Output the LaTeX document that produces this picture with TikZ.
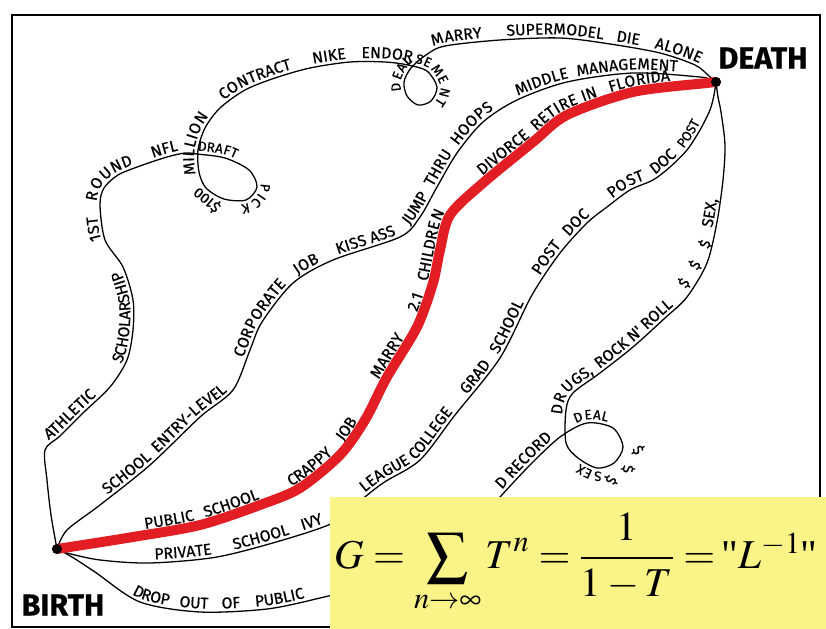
\documentclass[tikz,border=0pt]{standalone}
\usepackage{mathptmx}
\usepackage{fontspec}
\usetikzlibrary{decorations.text}
\newfontfamily\handfont{Fira Sans}[FakeBold=0.6]
\newfontfamily\formulafont{Liberation Serif}
\definecolor{stickyyellow}{RGB}{250,243,135}
\definecolor{lifered}{RGB}{226,30,36}

\begin{document}
\begin{tikzpicture}[x=0.03cm, y=-0.03cm,
    route/.style={line width=1.1pt, line cap=round, line join=round},
    lifeline/.style={draw=lifered, line width=8.5pt, line cap=round},
    dot/.style={circle, fill=black, inner sep=0pt, minimum size=8pt},
    tag/.style={inner sep=0pt, font=\handfont\bfseries\fontsize{26}{28}\selectfont},
    cash/.style={inner sep=0pt, font=\handfont\fontsize{12.5}{13}\selectfont},
    words/.style 2 args={preaction={decorate, decoration={text along path, raise=3pt,
        text align={left indent=#1}, text={|\handfont\fontsize{13.5}{14}\selectfont|#2}}}},
    loopwords/.style 2 args={preaction={decorate, decoration={text along path, raise=3pt,
        text align={left indent=#1}, text={|\handfont\fontsize{11.5}{12}\selectfont|#2}}}},
    redwords/.style 2 args={preaction={decorate, decoration={text along path, raise=5pt,
        text align={left indent=#1}, text={|\handfont\fontsize{13.5}{14}\selectfont|#2}}}}]
    \useasboundingbox (0,0) rectangle (826,629);
    \draw[line width=2.4pt] (12,15) rectangle (820,627);

    \node[dot] (birth) at (57,549) {};
    \node[dot] (death) at (716,82) {};
    \node[tag] (birthtag) at (63,605) {BIRTH};
    \node[tag] (deathtag) at (763,58) {DEATH};

    \draw[route, words={93pt}{ATHLETIC}, words={185pt}{SCHOLARSHIP}, words={300pt}{1ST}, words={332pt}{ROUND}, words={394pt}{NFL},
        loopwords={432pt}{DRAFT}, loopwords={492pt}{PICK},
        words={561pt}{MILLION}, words={629pt}{CONTRACT}, words={711pt}{NIKE}, words={752pt}{ENDOR},
        loopwords={797pt}{SEMENT}, loopwords={868pt}{DEAL},
        words={914pt}{MARRY}, words={977pt}{SUPERMODEL}, words={1070pt}{DIE}, words={1103pt}{ALONE}]
        plot[smooth] coordinates {(birth.center) (51,515) (47,480) (45,450) (60,436) (83,413) (110,387) (127,360) (133,330) (133,300) (123,267) (105,240) (100,205) (104,188) (118,175) (140,166) (167,157) (185,153) (197,154) (225,158) (249,170) (257,187) (246,200) (224,199) (206,188) (199,172) (198,150) (205,128) (220,108) (245,90) (275,78) (310,68) (350,62) (385,62) (408,65) (427,71) (437,87) (431,101) (418,105) (407,96) (404,82) (411,68) (426,55) (445,46) (500,40) (560,38) (610,44) (660,53) (695,65) (709,76) (death.center)};
    \node[cash, rotate=140] (hundred) at (207,200) {\$100};

    \draw[route, words={64pt}{SCHOOL}, words={120pt}{ENTRY-LEVEL}, words={233pt}{CORPORATE}, words={317pt}{JOB}, words={355pt}{KISS ASS}, words={423pt}{JUMP}, words={462pt}{THRU}, words={503pt}{HOOPS}, words={569pt}{MIDDLE}, words={622pt}{MANAGEMENT}]
        plot[smooth] coordinates {(birth.center) (67,530) (100,505) (150,465) (200,417) (233,390) (250,350) (262,322) (293,283) (333,260) (400,237) (420,217) (437,187) (457,153) (483,122) (517,100) (567,82) (633,73) (700,77) (710,80) (death.center)};

    \draw[route, words={85pt}{PRIVATE}, words={154pt}{SCHOOL}, words={215pt}{IVY}, words={279pt}{LEAGUE}, words={330pt}{COLLEGE}, words={402pt}{GRAD}, words={446pt}{SCHOOL}, words={522pt}{POST}, words={563pt}{DOC}, words={612pt}{POST}, words={654pt}{DOC}, loopwords={688pt}{POST}]
        plot[smooth] coordinates {(birth.center) (67,553) (100,560) (150,563) (217,557) (283,540) (333,523) (355,505) (383,483) (420,460) (455,415) (500,358) (532,295) (560,253) (587,223) (607,207) (630,190) (653,180) (670,167) (687,150) (700,130) (710,110) (714,95) (death.center)};

    \draw[route, words={75pt}{DROP}, words={118pt}{OUT}, words={155pt}{OF}, words={184pt}{PUBLIC}, words={425pt}{D RECORD},
        loopwords={509pt}{DEAL}, loopwords={587pt}{SEX},
        words={650pt}{DRUGS,}, words={701pt}{ROCK N' ROLL}, words={862pt}{SEX,}]
        plot[smooth] coordinates {(birth.center) (72,557) (95,572) (140,602) (200,612) (267,609) (320,598) (360,587) (420,560) (470,530) (500,497) (530,465) (560,437) (587,423) (613,428) (623,447) (614,463) (597,468) (578,458) (566,443) (566,410) (573,393) (600,373) (633,347) (665,318) (687,297) (707,263) (717,222) (723,180) (725,145) (721,112) (718,97) (death.center)};
    \node[cash, rotate=-60] (loopcash1) at (638,450) {\$};
    \node[cash, rotate=-90] (loopcash2) at (628,469) {\$};
    \node[cash, rotate=-120] (loopcash3) at (611,480) {\$};
    \node[cash, rotate=55] (rockcash1) at (684,283) {\$};
    \node[cash, rotate=60] (rockcash2) at (695,265) {\$};
    \node[cash, rotate=70] (rockcash3) at (705,244) {\$};

    \draw[lifeline, redwords={77pt}{PUBLIC}, redwords={130pt}{SCHOOL}, redwords={209pt}{CRAPPY}, redwords={270pt}{JOB}, redwords={332pt}{MARRY}, redwords={399pt}{2.1}, redwords={427pt}{CHILDREN}, redwords={530pt}{DIVORCE}, redwords={590pt}{RETIRE}, redwords={636pt}{IN}, redwords={660pt}{FLORIDA}]
        plot[smooth] coordinates {(birth.center) (133,537) (200,525) (260,505) (300,488) (340,455) (365,420) (387,377) (417,327) (433,283) (440,250) (450,215) (483,183) (533,142) (567,115) (633,92) (707,83) (death.center)};

    \foreach \n in {birth,death} \fill (\n) circle (5);

    \fill[stickyyellow] (330,497) rectangle (826,629);
    \node[inner sep=0pt] (law) at (576,563) {\fontsize{35}{41}\selectfont $\displaystyle G=\sum_{n\to\infty}T^n=\frac{1}{1-T}=$\,{\formulafont"}$L^{-1}${\formulafont"}};
\end{tikzpicture}
\end{document}
